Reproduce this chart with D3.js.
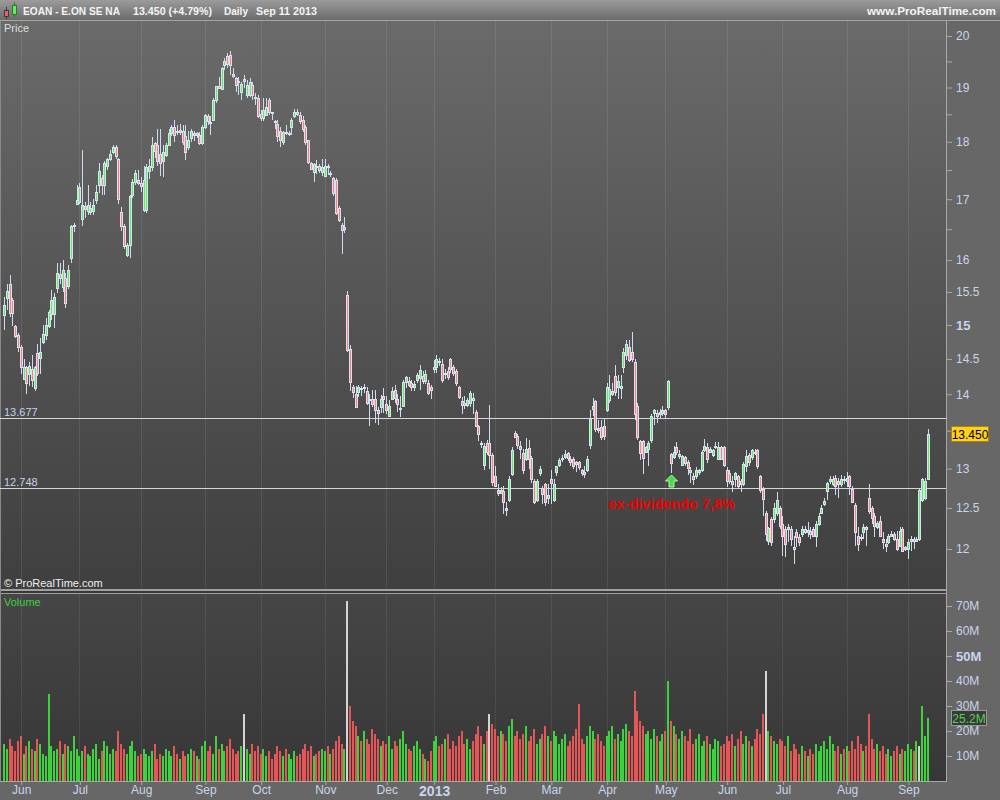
<!DOCTYPE html>
<html><head><meta charset="utf-8">
<script src="https://cdn.jsdelivr.net/npm/d3@7"></script>
<style>html,body{margin:0;padding:0;background:#676767;overflow:hidden}svg{display:block;font-family:"Liberation Sans",Arial,sans-serif}</style>
</head><body><svg id="c" width="1000" height="800"></svg>
<script>
// ---------------- DATA ----------------
const firstDay = "2012-05-24";
const lastDay = "2013-09-11";
const exchangeHolidays = ["2012-12-24","2012-12-25","2012-12-26","2012-12-31","2013-01-01","2013-03-29","2013-04-01","2013-05-01"];
const openP = [
15.15,15.40,15.63,15.38,14.98,14.85,14.68,14.22,14.38,14.28,
14.35,14.08,14.58,14.52,14.75,14.85,14.98,15.16,15.16,15.56,
15.78,15.58,15.72,15.60,16.03,16.55,16.92,16.95,16.67,16.88,
16.80,16.78,16.80,16.98,17.24,17.36,17.25,17.57,17.70,17.82,
17.90,17.70,16.78,16.55,16.08,16.24,17.07,17.30,17.32,17.27,
16.82,16.82,17.49,17.55,17.97,17.94,17.79,17.66,17.76,17.94,
18.15,18.27,18.20,18.18,18.20,18.10,17.90,18.06,18.15,18.12,
18.12,17.97,18.27,18.46,18.36,18.40,18.77,19.02,18.98,19.43,
19.60,19.62,19.26,19.18,19.12,18.92,19.12,18.86,18.86,19.05,
18.83,18.80,18.50,18.43,18.49,18.77,18.55,18.37,18.33,18.20,
18.00,18.18,18.15,18.27,18.46,18.55,18.49,18.40,18.27,18.03,
17.62,17.46,17.58,17.58,17.47,17.40,17.58,17.45,17.36,17.33,
16.85,16.57,16.50,15.46,14.65,14.10,14.00,14.03,14.09,14.08,
14.05,13.93,13.94,13.94,13.78,13.82,13.97,13.86,13.70,13.94,
14.06,13.94,13.80,13.83,14.17,14.18,14.15,14.10,14.20,14.23,
14.26,14.18,14.15,14.10,14.35,14.38,14.47,14.43,14.28,14.32,
14.50,14.38,14.32,14.10,13.91,13.88,13.85,13.88,13.95,13.76,
13.56,13.34,13.05,13.34,13.33,13.18,12.91,12.73,12.69,12.71,
12.50,12.60,12.93,13.47,13.43,13.30,13.20,13.13,13.27,13.14,
12.84,12.60,12.94,12.75,12.80,12.62,12.86,12.60,12.95,13.05,
13.12,13.15,13.20,13.13,13.13,13.08,13.08,12.98,12.95,12.98,
13.31,13.80,13.90,13.54,13.55,13.56,13.78,13.92,14.00,14.26,
14.10,14.09,14.38,14.56,14.67,14.60,14.46,13.83,13.36,13.36,
13.22,13.26,13.38,13.74,13.74,13.72,13.74,13.78,13.82,13.19,
13.15,13.28,13.17,13.05,13.15,13.09,12.98,12.90,12.90,12.95,
12.98,13.24,13.28,13.22,13.18,13.28,13.13,13.28,13.28,12.98,
12.94,12.84,12.86,12.90,12.84,12.80,13.04,13.18,13.15,13.22,
13.24,12.90,12.74,12.44,12.10,12.37,12.36,12.44,12.50,12.30,
12.24,12.24,12.24,12.02,12.20,12.14,12.18,12.24,12.20,12.22,
12.24,12.16,12.30,12.44,12.55,12.71,12.84,12.80,12.88,12.84,
12.80,12.86,12.84,12.90,12.74,12.54,12.16,12.15,12.20,12.26,
12.62,12.50,12.40,12.26,12.34,12.12,12.06,12.08,12.16,12.18,
12.12,12.04,12.24,12.00,12.00,12.10,12.12,12.10,12.12,12.60,
12.62,12.86];
const highP = [
15.42,15.62,15.77,15.40,15.00,14.88,14.70,14.50,14.40,14.45,
14.55,14.40,14.72,14.80,15.00,15.10,15.22,15.53,15.48,15.95,
15.95,16.00,15.80,15.92,16.57,16.60,17.25,17.28,17.85,16.95,
17.24,16.95,17.00,17.24,17.62,17.41,17.66,17.72,17.85,17.95,
17.94,17.72,16.87,16.58,16.28,17.07,17.35,17.50,17.50,17.38,
17.58,17.60,17.70,18.08,18.00,18.23,18.23,17.94,17.97,18.23,
18.30,18.40,18.30,18.33,18.30,18.30,18.20,18.24,18.20,18.18,
18.18,18.30,18.50,18.50,18.46,18.80,19.03,19.20,19.40,19.57,
19.66,19.70,19.37,19.20,19.20,19.10,19.24,19.14,19.18,19.10,
18.90,18.86,18.58,18.80,18.80,18.80,18.55,18.40,18.40,18.27,
18.20,18.30,18.20,18.43,18.60,18.60,18.55,18.46,18.30,18.03,
17.64,17.63,17.67,17.60,17.70,17.70,17.60,17.48,17.38,17.37,
16.88,16.60,16.70,15.52,14.70,14.13,14.12,14.13,14.12,14.14,
14.10,14.00,14.06,14.06,13.82,13.99,14.08,13.98,13.92,14.10,
14.13,14.00,13.97,14.20,14.26,14.24,14.20,14.18,14.30,14.42,
14.32,14.34,14.20,14.13,14.48,14.55,14.52,14.50,14.36,14.38,
14.52,14.42,14.36,14.12,13.96,13.98,13.95,14.05,14.01,13.78,
13.58,13.36,13.33,13.38,13.85,13.21,13.03,12.80,12.77,12.78,
12.57,12.90,13.28,13.49,13.45,13.36,13.26,13.40,13.38,13.16,
12.86,12.87,13.04,12.78,12.82,12.80,12.98,12.87,13.04,13.14,
13.18,13.24,13.22,13.16,13.15,13.10,13.10,13.00,13.04,13.16,
13.78,13.95,13.92,13.64,13.65,13.67,14.15,14.27,14.15,14.41,
14.27,14.27,14.66,14.77,14.77,14.90,14.50,13.88,13.38,13.38,
13.30,13.36,13.72,13.80,13.78,13.80,13.83,13.80,14.20,13.20,
13.29,13.35,13.24,13.18,13.17,13.11,13.02,12.94,13.02,13.00,
13.24,13.39,13.33,13.28,13.26,13.35,13.35,13.30,13.30,13.02,
12.98,12.90,12.96,12.92,12.86,13.08,13.24,13.20,13.26,13.26,
13.26,12.92,12.76,12.46,12.27,12.39,12.56,12.70,12.52,12.40,
12.28,12.30,12.28,12.16,12.24,12.18,12.28,12.28,12.33,12.26,
12.26,12.34,12.44,12.54,12.62,12.83,12.90,12.90,12.92,12.88,
12.92,12.90,12.95,12.92,12.78,12.56,12.26,12.18,12.30,12.28,
12.80,12.52,12.44,12.34,12.40,12.20,12.12,12.18,12.22,12.20,
12.22,12.26,12.26,12.04,12.12,12.16,12.14,12.15,12.74,12.88,
12.88,13.52];
const lowP = [
14.93,15.22,15.12,14.98,14.80,14.60,14.28,14.20,14.00,14.12,
14.10,14.05,14.25,14.28,14.72,14.78,14.95,15.08,14.95,15.48,
15.62,15.50,15.25,15.55,15.95,16.45,16.90,16.92,16.55,16.68,
16.73,16.74,16.73,16.92,17.10,17.07,17.07,17.50,17.66,17.78,
17.70,16.92,16.47,16.18,16.05,16.03,17.02,17.24,17.25,17.12,
16.78,16.77,17.35,17.49,17.72,17.58,17.40,17.38,17.73,17.94,
18.10,18.00,18.12,18.12,17.94,17.68,17.85,18.00,18.02,18.06,
17.94,17.94,18.24,18.30,18.12,18.37,18.70,18.97,18.98,19.33,
19.38,19.24,19.18,18.92,18.86,18.76,19.00,18.80,18.83,18.77,
18.67,18.43,18.37,18.37,18.46,18.49,18.40,18.24,18.00,17.90,
17.94,18.12,18.10,18.12,18.43,18.46,18.33,18.18,17.94,17.60,
17.52,17.30,17.43,17.45,17.40,17.38,17.42,17.38,17.06,16.73,
16.62,16.10,16.44,14.60,14.05,13.95,13.82,13.96,13.98,14.02,
13.85,13.57,13.82,13.60,13.58,13.74,13.74,13.72,13.68,13.92,
13.88,13.76,13.68,13.83,14.08,14.10,14.05,14.04,14.16,14.06,
14.14,14.14,13.99,13.94,14.30,14.30,14.40,14.15,14.22,14.20,
14.30,14.26,14.12,13.94,13.72,13.80,13.82,13.82,13.72,13.55,
13.36,13.27,12.98,13.18,13.00,12.78,12.76,12.65,12.67,12.43,
12.40,12.58,12.90,13.40,13.25,13.12,12.93,13.10,13.00,12.82,
12.55,12.57,12.90,12.55,12.53,12.55,12.55,12.57,12.90,13.02,
13.08,13.12,13.10,13.04,13.00,12.95,12.98,12.90,12.88,12.96,
13.26,13.70,13.48,13.47,13.38,13.38,13.76,13.88,13.98,13.98,
13.93,13.93,14.30,14.48,14.45,14.45,13.64,13.38,13.11,12.93,
13.20,13.04,13.34,13.58,13.60,13.66,13.70,13.66,13.78,12.94,
13.13,13.18,13.12,13.03,13.03,12.92,12.82,12.79,12.86,12.92,
12.96,13.22,13.07,13.20,13.15,13.26,13.11,13.11,13.02,12.76,
12.80,12.70,12.76,12.74,12.70,12.78,12.96,13.04,13.11,13.18,
13.00,12.69,12.40,12.10,12.05,12.03,12.32,12.40,12.24,11.92,
11.90,12.08,12.04,11.82,12.02,12.04,12.15,12.18,12.15,12.12,
12.14,12.02,12.28,12.42,12.52,12.60,12.80,12.78,12.66,12.62,
12.76,12.80,12.76,12.66,12.56,12.04,11.98,12.10,12.12,12.04,
12.42,12.30,12.14,12.24,12.14,12.00,11.96,12.06,12.14,12.10,
11.98,12.02,11.96,11.98,11.88,11.98,12.00,12.08,12.10,12.58,
12.60,12.86];
const closeP = [
15.30,15.52,15.18,15.18,14.84,14.68,14.38,14.38,14.16,14.40,
14.20,14.38,14.30,14.60,14.87,15.00,15.20,15.38,15.42,15.80,
15.72,15.84,15.33,15.85,16.55,16.57,16.99,17.21,16.90,16.83,
16.90,16.85,16.90,17.12,17.48,17.24,17.62,17.69,17.79,17.91,
17.74,17.00,16.55,16.22,16.24,17.05,17.30,17.45,17.28,17.22,
17.33,17.55,17.57,17.94,17.83,17.66,17.63,17.82,17.94,18.15,
18.27,18.12,18.18,18.22,18.00,17.82,18.03,18.20,18.12,18.15,
17.97,18.27,18.49,18.37,18.34,18.77,19.02,19.00,19.37,19.50,
19.45,19.43,19.22,19.05,19.10,19.06,19.16,19.05,19.10,18.86,
18.80,18.46,18.43,18.58,18.64,18.55,18.53,18.35,18.10,18.03,
18.18,18.15,18.16,18.40,18.55,18.50,18.37,18.24,18.00,17.64,
17.52,17.60,17.55,17.50,17.55,17.58,17.56,17.45,17.10,16.76,
16.65,16.48,16.53,14.63,14.17,14.03,13.82,14.10,14.07,14.10,
13.88,13.92,13.86,13.78,13.74,13.93,13.94,13.78,13.84,14.05,
13.95,13.87,13.81,14.17,14.24,14.13,14.10,14.14,14.27,14.34,
14.18,14.28,14.01,14.06,14.38,14.50,14.45,14.20,14.30,14.24,
14.36,14.30,14.16,13.96,13.85,13.85,13.92,14.02,13.92,13.57,
13.45,13.32,13.30,13.22,13.18,12.83,12.78,12.69,12.73,12.57,
12.48,12.87,13.24,13.42,13.31,13.25,12.98,13.25,13.13,12.86,
12.57,12.84,13.00,12.68,12.58,12.66,12.82,12.80,13.03,13.11,
13.14,13.19,13.14,13.08,13.04,13.06,13.02,12.94,12.93,13.13,
13.67,13.84,13.52,13.51,13.42,13.43,14.10,14.07,14.04,14.03,
14.18,14.11,14.60,14.72,14.48,14.50,13.73,13.42,13.20,13.14,
13.28,13.34,13.70,13.78,13.70,13.76,13.78,13.72,14.18,13.07,
13.22,13.22,13.19,13.16,13.07,13.01,12.95,12.86,12.98,12.98,
13.22,13.30,13.13,13.26,13.24,13.30,13.28,13.13,13.05,12.84,
12.84,12.80,12.94,12.78,12.80,13.06,13.16,13.08,13.24,13.20,
13.04,12.73,12.61,12.18,12.25,12.08,12.50,12.60,12.28,12.16,
12.06,12.26,12.12,12.00,12.14,12.08,12.24,12.20,12.23,12.18,
12.16,12.30,12.40,12.50,12.59,12.81,12.86,12.86,12.78,12.80,
12.86,12.85,12.88,12.78,12.58,12.20,12.06,12.14,12.26,12.24,
12.46,12.38,12.28,12.32,12.16,12.08,12.04,12.16,12.18,12.12,
12.00,12.22,11.98,12.02,12.08,12.12,12.10,12.12,12.72,12.86,
12.835,13.45];
const volumeM = [
15,13,17,14,12,16,18,11,14,16,13,12,17,15,11,10,35,14,12,13,16,11,15,14,12,18,13,10,
12,14,11,10,13,15,9,12,16,14,11,13,12,20,15,13,11,14,16,12,10,11,
13,11,10,12,15,9,11,10,13,12,10,14,11,9,12,10,11,13,12,10,9,14,
16,12,14,11,18,13,15,12,14,17,13,11,12,14,27,13,11,15,12,14,
11,13,10,12,9,11,14,12,10,13,11,9,12,10,11,13,15,12,14,10,11,12,13,
12,14,11,13,16,18,15,13,72,30,24,22,18,16,20,17,15,21,19,17,14,16,
15,18,13,16,14,17,20,15,13,12,14,16,13,11,9,8,12,
16,18,14,15,17,19,13,16,14,18,20,15,17,13,16,19,22,18,15,20,27,23,
21,18,20,19,16,22,25,18,20,17,19,22,16,18,21,15,17,19,22,18,
16,20,18,15,17,19,14,16,18,21,31,17,15,18,22,20,17,19,16,14,
18,20,22,17,19,16,21,23,20,18,36,28,24,22,19,20,17,21,18,16,19,
20,40,24,22,19,17,20,18,16,21,15,17,19,14,16,18,15,13,17,16,14,15,
18,16,19,14,17,20,15,18,16,14,17,21,19,27,44,20,18,16,15,17,
16,14,18,12,15,13,11,14,12,10,13,11,15,12,14,16,13,18,15,12,14,11,13,
14,12,16,13,18,15,12,14,27,17,13,15,12,14,11,13,10,12,14,11,13,12,
15,13,12,16,14,30,18,25.2];
const neutralVolumeDays = [86,123,174,273,328];
const priceTicks = [12,12.5,13,14,14.5,15,15.5,16,17,18,19,20];
const priceMinorTicks = [13.5,16.5,17.5,18.5,19.5];
const volumeTicks = [10,20,30,40,50,60,70];
const levelLines = [13.677,12.748];
const monthNames = ["Jan","Feb","Mar","Apr","May","Jun","Jul","Aug","Sep","Oct","Nov","Dec"];
const exDividendDate = "2013-05-06";
const exDividendText = "ex-dividendo 7,8%";
const instrumentName = "EOAN - E.ON SE NA";
const periodName = "Daily";
const siteName = "www.ProRealTime.com";

// ---------------- DATES ----------------
function parseDay(s){const [y,m,d]=s.split("-").map(Number);return new Date(Date.UTC(y,m-1,d));}
const fmtDay = d3.utcFormat("%Y-%m-%d");
const dates = [];
for (let d=parseDay(firstDay); d<=parseDay(lastDay); d=new Date(d.getTime()+86400000)){
  const wd=d.getUTCDay();
  if (wd===0||wd===6) continue;
  if (exchangeHolidays.includes(fmtDay(d))) continue;
  dates.push(d);
}
const n = closeP.length;
const bars = d3.range(n).map(i=>({i, date:dates[i], o:openP[i], h:highP[i], l:lowP[i], c:closeP[i], v:volumeM[i]}));
const monthStarts = d3.range(1,n).filter(i=>dates[i].getUTCMonth()!==dates[i-1].getUTCMonth());

// ---------------- LAYOUT ----------------
const W=1000,H=800;
const P={left:0,right:946,top:21,bottom:590};
const V={top:594,bottom:781};
const x = d3.scaleLinear().domain([0,n-1]).range([4,927.5]);
const y = d3.scaleLog().domain([12,20]).range([549,36]);
const vy = d3.scaleLinear().domain([0,70]).range([781,606]);

const svg = d3.select("#c");
const defs = svg.append("defs");
function vgrad(id,stops){const g=defs.append("linearGradient").attr("id",id).attr("x1",0).attr("y1",0).attr("x2",0).attr("y2",1);stops.forEach(([o,c])=>g.append("stop").attr("offset",o).attr("stop-color",c));}
vgrad("hdr",[[0,"#9b9b9b"],[1,"#6b6b6b"]]);
vgrad("pbg",[[0,"#6a6a6a"],[1,"#3f3f3f"]]);
vgrad("vbg",[[0,"#464646"],[1,"#373737"]]);
defs.append("clipPath").attr("id","pclip").append("rect").attr("x",P.left).attr("y",P.top).attr("width",P.right-P.left).attr("height",P.bottom-P.top);
defs.append("clipPath").attr("id","vclip").append("rect").attr("x",P.left).attr("y",V.top).attr("width",P.right-P.left).attr("height",V.bottom-V.top);

svg.append("rect").attr("width",W).attr("height",H).attr("fill","#676767");
svg.append("rect").attr("width",W).attr("height",20).attr("fill","url(#hdr)");
svg.append("rect").attr("x",0).attr("y",20).attr("width",W).attr("height",1).attr("fill","#a6a6a6");
svg.append("rect").attr("x",P.left).attr("y",P.top).attr("width",P.right-P.left).attr("height",P.bottom-P.top).attr("fill","url(#pbg)");
svg.append("rect").attr("x",P.left).attr("y",V.top).attr("width",P.right-P.left).attr("height",V.bottom-V.top).attr("fill","url(#vbg)");
// separators
svg.append("rect").attr("x",0).attr("y",589).attr("width",P.right).attr("height",2).attr("fill","#a0a0a0");
svg.append("rect").attr("x",0).attr("y",591).attr("width",P.right).attr("height",2).attr("fill","#383838");
svg.append("rect").attr("x",0).attr("y",593).attr("width",P.right).attr("height",1).attr("fill","#a0a0a0");
svg.append("rect").attr("x",0).attr("y",P.top).attr("width",1).attr("height",V.bottom-P.top).attr("fill","#8a8a8a");

// gridlines
const grid = svg.append("g").attr("shape-rendering","crispEdges");
monthStarts.forEach(i=>{
  const gx=Math.round(x(i))+0.5;
  grid.append("line").attr("x1",gx).attr("x2",gx).attr("y1",P.top).attr("y2",589).attr("stroke","rgba(255,255,255,0.09)");
  grid.append("line").attr("x1",gx).attr("x2",gx).attr("y1",V.top).attr("y2",V.bottom).attr("stroke","rgba(255,255,255,0.08)");
});

// level lines
const lv = svg.append("g");
levelLines.forEach(v=>{
  const ly=Math.round(y(v))+0.5;
  lv.append("line").attr("x1",0).attr("x2",P.right).attr("y1",ly).attr("y2",ly).attr("stroke","#d6d6d6").attr("stroke-width",1);
  lv.append("text").attr("x",4).attr("y",ly-3).attr("fill","#c4d2ea").attr("font-size",11).text(d3.format(".3f")(v));
});

// candles
const OUT="#d9e2f2", UP="#5cf05c", DN="#ff7f7f";
const cg = svg.append("g").attr("clip-path","url(#pclip)").attr("shape-rendering","crispEdges");
bars.forEach(b=>{
  const cx=Math.round(x(b.i));
  cg.append("line").attr("x1",cx+0.5).attr("x2",cx+0.5).attr("y1",y(b.h)).attr("y2",y(b.l)).attr("stroke","#cfdbee").attr("stroke-width",1);
  const top=Math.round(y(Math.max(b.o,b.c))), bot=Math.round(y(Math.min(b.o,b.c)));
  const h=Math.max(bot-top,1);
  cg.append("rect").attr("x",cx-1).attr("y",top).attr("width",3).attr("height",h+1).attr("fill",OUT);
  if (h>=2) cg.append("rect").attr("x",cx).attr("y",top+1).attr("width",1).attr("height",h-1).attr("fill",b.c>=b.o?UP:DN);
});

// volume
const vg = svg.append("g").attr("clip-path","url(#vclip)").attr("shape-rendering","crispEdges");
bars.forEach(b=>{
  const bx=Math.round(x(b.i))-1;
  const col = neutralVolumeDays.includes(b.i) ? "#d4d4d4" : (b.c>=b.o ? "#3fd23f" : "#e65656");
  vg.append("rect").attr("x",bx).attr("y",vy(b.v)).attr("width",2).attr("height",V.bottom-vy(b.v)).attr("fill",col);
});

// axes
svg.append("rect").attr("x",P.right).attr("y",P.top).attr("width",1).attr("height",V.bottom-P.top).attr("fill","#a8a8a8");
svg.append("rect").attr("x",0).attr("y",V.bottom).attr("width",P.right+1).attr("height",1).attr("fill","#a8a8a8");
const AX="#c8d5ec";
function styleAxis(g,boldVal){
  g.select(".domain").remove();
  g.selectAll(".tick line").attr("stroke","#a8a8a8");
  g.selectAll(".tick text").attr("fill",AX).attr("font-family",'"Liberation Sans",Arial,sans-serif')
    .style("font-weight",d=>d===boldVal?"bold":"normal").attr("font-size",d=>d===boldVal?13:12);
}
const gY = svg.append("g").attr("transform",`translate(${P.right+1},0)`).call(d3.axisRight(y).tickValues(priceTicks).tickSize(5).tickPadding(4).tickFormat(d=>String(d)));
styleAxis(gY,15);
const gYm = svg.append("g").attr("transform",`translate(${P.right+1},0)`).call(d3.axisRight(y).tickValues(priceMinorTicks).tickSize(5).tickFormat(""));
gYm.select(".domain").remove(); gYm.selectAll("line").attr("stroke","#a8a8a8");
const gV = svg.append("g").attr("transform",`translate(${P.right+1},0)`).call(d3.axisRight(vy).tickValues(volumeTicks).tickSize(5).tickPadding(4).tickFormat(d=>d+"M"));
styleAxis(gV,50);
const gX = svg.append("g").attr("transform",`translate(0.5,${V.bottom+1})`).call(d3.axisBottom(x).tickValues(monthStarts).tickSize(3).tickPadding(1)
  .tickFormat(i=>dates[i].getUTCMonth()===0?String(dates[i].getUTCFullYear()):monthNames[dates[i].getUTCMonth()]));
gX.select(".domain").remove();
gX.selectAll(".tick line").attr("stroke","#a8a8a8");
gX.selectAll(".tick text").attr("fill",AX).attr("font-family",'"Liberation Sans",Arial,sans-serif')
  .attr("font-size",i=>dates[i].getUTCMonth()===0?14:12).style("font-weight",i=>dates[i].getUTCMonth()===0?"bold":"normal")
  .attr("dy","0.68em");

// last price tag
const last=closeP[n-1], prev=closeP[n-2];
const ty=y(last);
svg.append("rect").attr("x",951.5).attr("y",Math.round(ty)-7.5).attr("width",37).attr("height",15).attr("fill","#ffd21a").attr("stroke","#a88400");
svg.append("text").attr("x",970).attr("y",Math.round(ty)+4.5).attr("text-anchor","middle").attr("font-size",12).attr("fill","#000").text(d3.format(".3f")(last));
// last volume tag
const lvv=volumeM[n-1], tvy=vy(lvv);
svg.append("rect").attr("x",951.5).attr("y",Math.round(tvy)-7.5).attr("width",35).attr("height",15).attr("fill","#3a3a3a").attr("stroke","#9a9a9a");
svg.append("text").attr("x",969).attr("y",Math.round(tvy)+4.5).attr("text-anchor","middle").attr("font-size",12).attr("fill","#4fd34f").text(lvv+"M");

// panel labels
svg.append("text").attr("x",4).attr("y",32).attr("font-size",11).attr("fill","#dedede").text("Price");
svg.append("text").attr("x",4).attr("y",587).attr("font-size",11).attr("fill","#efefef").text("© ProRealTime.com");
svg.append("text").attr("x",4).attr("y",606).attr("font-size",11).attr("fill","#3fcf3f").text("Volume");

// ex-dividend annotation
const ei = dates.findIndex(d=>fmtDay(d)===exDividendDate);
const ax = Math.round(x(ei))+0.5, ay = Math.round(y(lowP[ei]))+2;
svg.append("path").attr("d",`M${ax},${ay} L${ax+6},${ay+6} L${ax+2.5},${ay+6} L${ax+2.5},${ay+12} L${ax-2.5},${ay+12} L${ax-2.5},${ay+6} L${ax-6},${ay+6} Z`)
  .attr("fill","#46dc46").attr("stroke","#b5f2b5").attr("stroke-width",1);
svg.append("text").attr("x",ax).attr("y",ay+34).attr("text-anchor","middle").attr("font-size",14.5).attr("font-weight","bold").attr("fill","#f00000").text(exDividendText);

// header
const hg = svg.append("g");
hg.append("line").attr("x1",6.5).attr("x2",6.5).attr("y1",7).attr("y2",19).attr("stroke","#3a3a3a");
hg.append("rect").attr("x",4.5).attr("y",10.5).attr("width",4).attr("height",6).attr("fill","#f25c5c").attr("stroke","#3a3a3a");
hg.append("line").attr("x1",14.5).attr("x2",14.5).attr("y1",2).attr("y2",17).attr("stroke","#2a7a2a");
hg.append("rect").attr("x",12.5).attr("y",5.5).attr("width",4).attr("height",9).attr("fill","#5ef05e").attr("stroke","#2a7a2a");
const chg=(last/prev-1)*100;
const quote=`${d3.format(".3f")(last)} (${chg>=0?"+":""}${d3.format(".2f")(chg)}%)`;
const hdrItems=[[instrumentName,23,97],[quote,133,79],[periodName,224,24],[d3.utcFormat("%b %d %Y")(dates[n-1]),256,61]];
hdrItems.forEach(([t,hx,w])=>hg.append("text").attr("x",hx).attr("y",15).attr("font-size",11).attr("font-weight","bold").attr("fill","#f4f4f4")
  .attr("textLength",w).attr("lengthAdjust","spacingAndGlyphs").text(t));
hg.append("text").attr("x",867).attr("y",15).attr("font-size",11).attr("font-weight","bold").attr("fill","#f4f4f4")
  .attr("textLength",129).attr("lengthAdjust","spacingAndGlyphs").text(siteName);
</script></body></html>
